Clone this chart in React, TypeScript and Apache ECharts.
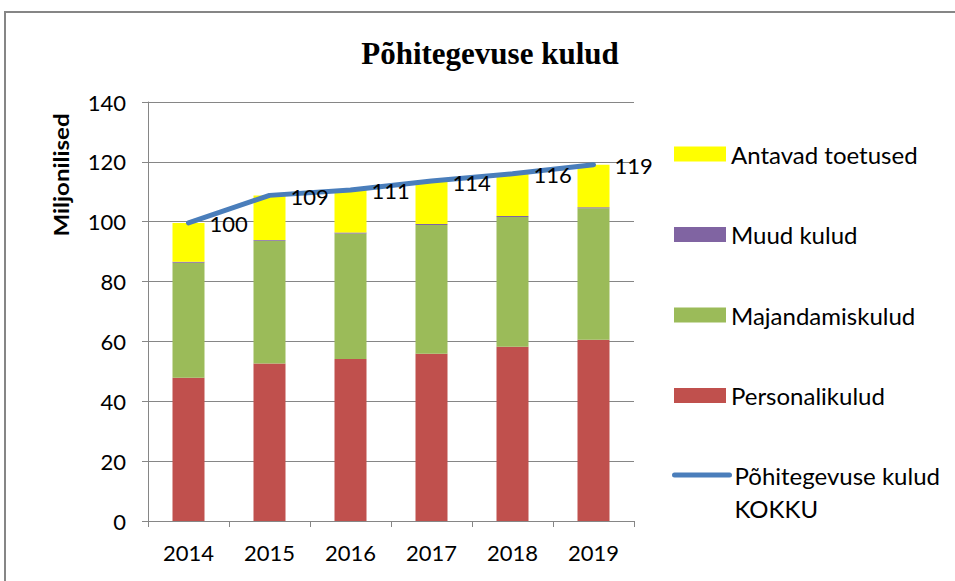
import React, { useEffect, useRef } from "react";
import * as echarts from "echarts";

const years = ["2014", "2015", "2016", "2017", "2018", "2019"];
const personalikulud = [47.9, 52.6, 54.1, 55.9, 58.2, 60.6];
const majandamiskulud = [38.4, 41.0, 42.0, 43.0, 43.4, 43.9];
const muudKulud = [0.3, 0.3, 0.3, 0.3, 0.3, 0.3];
const antavadToetused = [13.0, 14.9, 14.2, 14.4, 14.1, 14.2];
const kokku = [99.6, 108.8, 110.6, 113.6, 116.0, 119.0];
const yTicks = { min: 0, max: 140, interval: 20 };

const FONT = "Lato";
const GRAY = "#868686";
const LINE_COLOR = "#4A7EBB";
const LINE_NAME = "Põhitegevuse kulud\nKOKKU";

export default function App() {
  const ref = useRef<HTMLDivElement>(null);
  useEffect(() => {
    if (!ref.current) return;
    const chart = echarts.init(ref.current, null, { renderer: "svg" });
    const barCommon = {
      type: "bar" as const,
      stack: "total",
      barWidth: 32,
    };
    chart.setOption({
      animation: false,
      backgroundColor: "#ffffff",
      grid: { left: 148, right: 321, top: 102, bottom: 60 },
      graphic: [
        {
          type: "rect",
          shape: { x: 5, y: 12, width: 1000, height: 1000 },
          style: { fill: "none", stroke: GRAY, lineWidth: 2 },
          silent: true,
        },
        {
          type: "text",
          x: 490,
          y: 53,
          style: {
            text: "Põhitegevuse kulud",
            fontFamily: "Liberation Serif",
            fontWeight: "bold",
            fontSize: 31,
            fill: "#000",
            align: "center",
            verticalAlign: "middle",
          },
        },
        {
          type: "text",
          x: 61,
          y: 175,
          rotation: Math.PI / 2,
          scaleX: 1.2,
          style: {
            text: "Miljonilised",
            fontFamily: FONT,
            fontWeight: "bold",
            fontSize: 20,
            fill: "#000",
            align: "center",
            verticalAlign: "middle",
          },
        },
      ],
      legend: [
        {
          orient: "vertical",
          left: 674,
          top: 137.5,
          padding: 0,
          itemWidth: 52,
          itemHeight: 15,
          itemGap: 47.5,
          icon: "rect",
          textStyle: { fontFamily: FONT, fontSize: 24, color: "#000", lineHeight: 33 },
          data: ["Antavad toetused", "Muud kulud", "Majandamiskulud", "Personalikulud"],
        },
        {
          orient: "vertical",
          left: 672,
          top: 425.5,
          padding: 0,
          itemWidth: 55,
          itemHeight: 15,
          textStyle: { fontFamily: FONT, fontSize: 24, color: "#000", lineHeight: 33 },
          lineStyle: { width: 5, cap: "round", color: LINE_COLOR },
          itemStyle: { color: "rgba(0,0,0,0)", borderWidth: 0, opacity: 0 },
          formatter: (name: string) => "\n" + name,
          data: [LINE_NAME],
        },
      ],
      xAxis: {
        type: "category",
        data: years,
        boundaryGap: true,
        axisLine: { show: true, lineStyle: { color: GRAY, width: 1 } },
        axisTick: { show: true, length: 6, alignWithLabel: false, lineStyle: { color: GRAY } },
        axisLabel: { fontFamily: FONT, fontSize: 22, color: "#000", margin: 20 },
        splitLine: { show: false },
      },
      yAxis: {
        type: "value",
        min: yTicks.min,
        max: yTicks.max,
        interval: yTicks.interval,
        axisLine: { show: true, lineStyle: { color: GRAY, width: 1 } },
        axisTick: { show: true, length: 6, lineStyle: { color: GRAY } },
        axisLabel: { fontFamily: FONT, fontSize: 22, color: "#000", margin: 22 },
        splitLine: { show: true, lineStyle: { color: GRAY, width: 1 } },
      },
      series: [
        { ...barCommon, name: "Personalikulud", data: personalikulud, itemStyle: { color: "#C0504D" } },
        { ...barCommon, name: "Majandamiskulud", data: majandamiskulud, itemStyle: { color: "#9BBB59" } },
        { ...barCommon, name: "Muud kulud", data: muudKulud, itemStyle: { color: "#8064A2" } },
        { ...barCommon, name: "Antavad toetused", data: antavadToetused, itemStyle: { color: "#FFFF00" } },
        {
          type: "line",
          name: LINE_NAME,
          data: kokku,
          symbol: "circle",
          symbolSize: 2,
          showSymbol: true,
          lineStyle: { color: LINE_COLOR, width: 5, cap: "round" },
          itemStyle: { color: LINE_COLOR },
          label: {
            show: true,
            position: "right",
            distance: 20,
            offset: [0, 1],
            fontFamily: FONT,
            fontSize: 22,
            color: "#000",
            formatter: (p: any) => Math.round(p.value).toString(),
          },
          z: 5,
        },
      ],
    });
    return () => chart.dispose();
  }, []);
  return (
    <div
      ref={ref}
      style={{ position: "absolute", left: 0, top: 0, width: 955, height: 581 }}
    />
  );
}
